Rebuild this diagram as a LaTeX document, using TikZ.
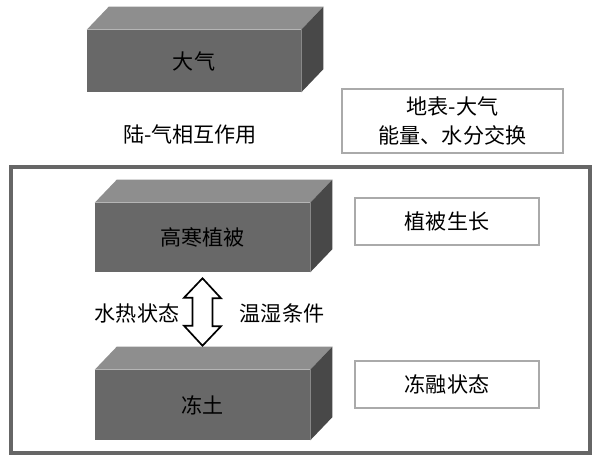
\documentclass[tikz,border=0pt]{standalone}
\usepackage{fontspec}
\setmainfont{Noto Sans CJK SC}
\usetikzlibrary{positioning}

\definecolor{facefront}{RGB}{104,104,104}
\definecolor{facetop}{RGB}{142,142,142}
\definecolor{faceside}{RGB}{72,72,72}
\definecolor{framegray}{RGB}{102,102,102}
\definecolor{tagline}{RGB}{170,170,170}

\tikzset{
    blocco/.style={fill=facefront, draw=none, minimum width=5.375cm, minimum height=1.725cm, inner sep=0pt},
    etichetta/.style={draw=tagline, line width=1.4pt, fill=white, minimum width=4.6cm, minimum height=1.175cm, inner sep=0pt},
    freccia/.style={draw=black, line width=1.2pt, fill=white, line join=miter}
}

\begin{document}
\begin{tikzpicture}[font=\fontsize{15pt}{21pt}\selectfont]
        \useasboundingbox (0,0) rectangle (15,-11.575);

        %%%%%%%%% Cornice %%%%%%%%%
        \draw[framegray, line width=2.2pt] (0.275,-4.175) rectangle (14.75,-11.325);

        %%%%%%%%% Blocchi %%%%%%%%%
        \node[blocco, minimum width=5.35cm, minimum height=1.55cm] (atmo) at (4.85,-1.525) {大气};
        \node[blocco] (vege) at (5.0625,-5.9375) {高寒植被};
        \node[blocco, minimum height=1.75cm] (soil) at (5.0625,-10.125) {冻土};

        %%%%%%%%%% Facce %%%%%%%%%%
        \foreach \b in {atmo,vege,soil} {
            \fill[facetop] (\b.north west) -- ++(0.55,0.575) -- ([shift={(0.55,0.575)}]\b.north east) -- (\b.north east) -- cycle;
            \fill[faceside] (\b.north east) -- ++(0.55,0.575) -- ([shift={(0.55,0.575)}]\b.south east) -- (\b.south east) -- cycle;
        }

        %%%%%%%%% Freccia %%%%%%%%%
        \coordinate (tipup) at ([yshift=-0.15cm]vege.south);
        \coordinate (tipdn) at ([yshift=0.6cm]soil.north);
        \draw[freccia] (tipup) -- ++(0.4625,-0.5) -- ++(-0.2125,0) -- ++(0,-0.7) -- ++(0.2125,0) -- (tipdn)
            -- ++(-0.4625,0.5) -- ++(0.2125,0) -- ++(0,0.7) -- ++(-0.2125,0) -- cycle;

        %%%%%%%%% Scritte %%%%%%%%%
        \node (lato) at (3.425,-7.825) {水热状态};
        \node (cond) at (7.05,-7.825) {温湿条件};
        \node (inter) at (4.75,-3.375) {陆-气相互作用};

        %%%%%%%%% Riquadri %%%%%%%%
        \node[etichetta, minimum width=5.525cm, minimum height=1.6cm, align=center] (scambio) at (11.3125,-3.025) {地表-大气\\能量、水分交换};
        \node[etichetta] (cresce) at (11.175,-5.5375) {植被生长};
        \node[etichetta] (gelo) at (11.175,-9.6125) {冻融状态};
    \end{tikzpicture}
\end{document}
